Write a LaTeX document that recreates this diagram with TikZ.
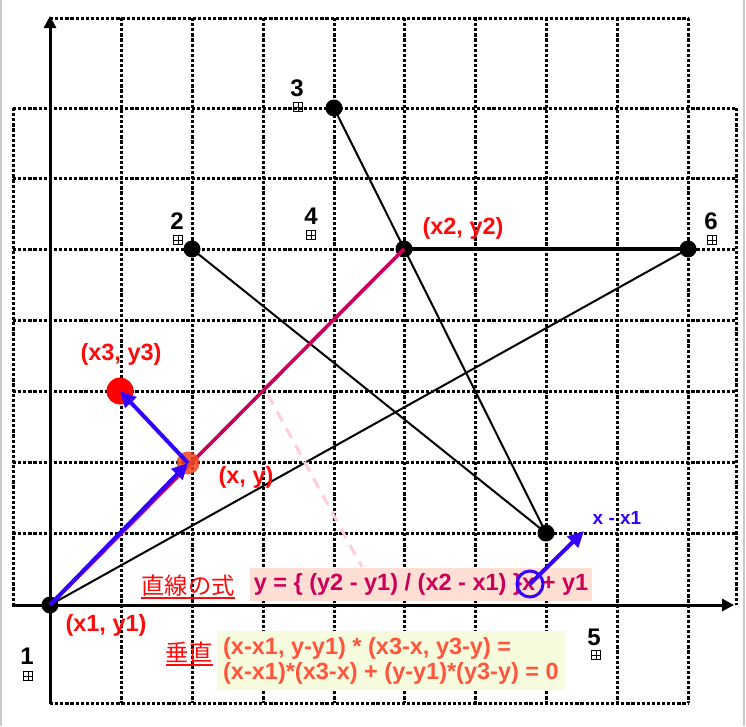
\documentclass[tikz,border=0pt]{standalone}
\usepackage{fontspec}
\setmainfont{Liberation Sans}
\newfontfamily\jpfont{Noto Sans CJK JP}
\usetikzlibrary{arrows.meta}
\definecolor{crimsonline}{RGB}{204,0,90}
\definecolor{vecblue}{RGB}{51,0,255}
\definecolor{labelred}{RGB}{255,10,10}
\definecolor{pinkbg}{RGB}{255,222,212}
\definecolor{greenbg}{RGB}{246,251,222}
\definecolor{tomatotext}{RGB}{255,85,60}
\definecolor{dashpink}{RGB}{255,205,222}
\definecolor{framegray}{RGB}{200,200,206}
\definecolor{pointorange}{RGB}{240,70,30}

\begin{document}
\begin{tikzpicture}[
    x=1pt, y=-1pt,
    gridline/.style={line width=3pt, dash pattern=on 3.2pt off 1.9pt},
    seg/.style={line width=2pt},
    dot/.style={circle, fill=black, minimum size=17pt, inner sep=0pt},
    ptlabel/.style={font=\fontsize{24}{28}\selectfont\bfseries},
    anchorbox/.style={rectangle, draw, line width=0.8pt, minimum size=9.5pt, inner sep=0pt,
        path picture={\draw[line width=0.8pt] (path picture bounding box.north) -- (path picture bounding box.south)
            (path picture bounding box.west) -- (path picture bounding box.east);}},
    redlabel/.style={text=labelred, font=\fontsize{23.5}{27}\selectfont\bfseries},
    jplabel/.style={text=labelred, font=\jpfont\fontsize{23.3}{27}\selectfont, inner sep=0pt},
    vec/.style={vecblue, line width=4pt, -{Triangle[length=16pt,width=15pt]}},
    axis/.style={line width=3pt, -{Triangle[length=12pt,width=12pt]}}
]
    \useasboundingbox (0,0) rectangle (746,726);

    % Frame
    \draw[framegray, line width=1.5pt] (1,0) -- (1,726);
    \draw[framegray, line width=1.5pt] (744,0) -- (744,726);

    % Grid
    \foreach \x in {121,192,263,334,404,475,546,617,688}
        \draw[gridline] (\x,18) -- (\x,703);
    \foreach \y in {108,178,249,320,391,462,533}
        \draw[gridline] (13,\y) -- (736,\y);
    \draw[gridline] (50,18) -- (688,18);
    \draw[gridline] (50,703) -- (688,703);
    \draw[gridline] (13,108) -- (13,605);
    \draw[gridline] (736,108) -- (736,605);

    % Axes
    \coordinate (xstart) at (12,605);
    \coordinate (xend) at (734,605);
    \coordinate (ystart) at (50,704);
    \coordinate (yend) at (50,16);
    \draw[axis] (xstart) -- (xend);
    \draw[axis] (ystart) -- (yend);

    % Points
    \node[dot] (p1) at (50,605) {};
    \node[dot] (p2) at (192,249) {};
    \node[dot] (p3) at (334,108) {};
    \node[dot] (q2) at (404,249) {};
    \node[dot] (p5) at (546,533) {};
    \node[dot] (p6) at (688,249) {};

    % Segments
    \draw[seg] (p2.center) -- (p5.center);
    \draw[seg] (p3.center) -- (p5.center);
    \draw[seg] (p1.center) -- (p6.center);
    \draw[line width=3.4pt] (q2.center) -- (p6.center);
    \draw[crimsonline, line width=3.6pt] (p1.center) -- (q2.center);

    % Foot of perpendicular
    \coordinate (foot) at (268,395);
    \coordinate (footend) at (362,567);
    \draw[dashpink, line width=3pt, dash pattern=on 11pt off 8pt] (foot) -- (footend);

    % Projection and third point
    \node[circle, fill=pointorange, opacity=0.85, minimum size=23pt, inner sep=0pt] (pxy) at (188,463) {};
    \node[circle, fill=red, minimum size=27pt, inner sep=0pt] (p3xy) at (120,391) {};
    \draw[vec] (p1.center) -- (pxy.center);
    \draw[vec] (pxy.center) -- (p3xy.center);

    % Numbers
    \node[ptlabel] (n1) at (27,656) {1};
    \node[anchorbox] (m1) at (28,676) {};
    \node[ptlabel] (n2) at (177,221) {2};
    \node[anchorbox] (m2) at (178,240) {};
    \node[ptlabel] (n3) at (297,88) {3};
    \node[anchorbox] (m3) at (298,107) {};
    \node[ptlabel] (n4) at (311,216) {4};
    \node[anchorbox] (m4) at (311,235) {};
    \node[ptlabel] (n5) at (594,637) {5};
    \node[anchorbox] (m5) at (596,655) {};
    \node[ptlabel] (n6) at (711,221) {6};
    \node[anchorbox] (m6) at (712,240) {};

    % Coordinates labels
    \node[redlabel] (lq2) at (463,228) {(x2, y2)};
    \node[redlabel] (lp3) at (121,354) {(x3, y3)};
    \node[redlabel] (lxy) at (246,477) {(x, y)};
    \node[redlabel] (lp1) at (106,625) {(x1, y1)};

    % Equations
    \node[jplabel] (lineeq) at (188,586) {直線の式};
    \draw[labelred, line width=2pt] ([yshift=-1pt]lineeq.south west) -- ([yshift=-1pt]lineeq.south east);
    \node[fill=pinkbg, text=crimsonline, font=\fontsize{23.5}{27}\selectfont\bfseries,
        inner xsep=4pt, inner ysep=0pt, minimum height=33pt] (lineform) at (421,584.5)
        {y = \{ (y2 - y1) / (x2 - x1) \}x + y1};
    \node[jplabel] (perp) at (189,653) {垂直};
    \draw[labelred, line width=2pt] ([yshift=-1pt]perp.south west) -- ([yshift=-1pt]perp.south east);
    \node[fill=greenbg, text=tomatotext, font=\fontsize{23.5}{25}\selectfont\bfseries,
        align=left, inner xsep=3pt, inner ysep=6pt, minimum width=348pt] (perpform) at (391,660.5)
        {(x-x1, y-y1) * (x3-x, y3-y) =\\(x-x1)*(x3-x) + (y-y1)*(y3-y) = 0};

    % Direction vector
    \node[circle, draw=vecblue, line width=3pt, minimum size=26pt, inner sep=0pt] (xmark) at (530,584) {};
    \coordinate (xtip) at (584,531);
    \draw[vec] (xmark.center) -- (xtip);
    \node[text=vecblue, font=\fontsize{19}{22}\selectfont\bfseries] (ldir) at (617,518) {x - x1};
\end{tikzpicture}
\end{document}
